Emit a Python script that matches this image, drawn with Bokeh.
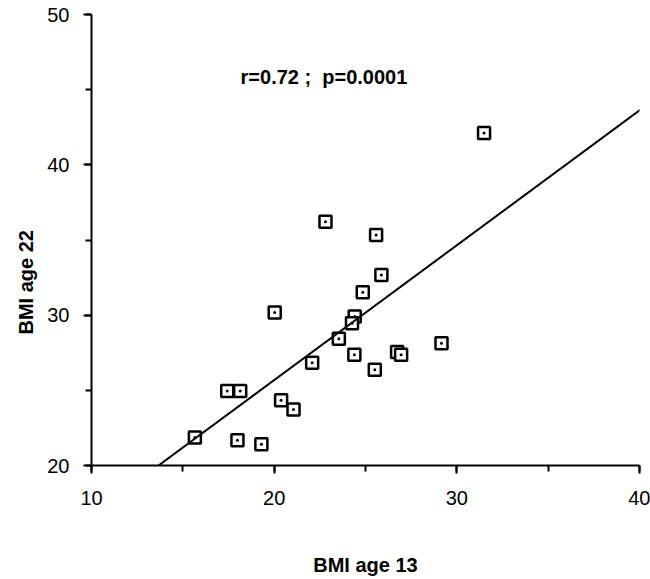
from bokeh.plotting import figure
from bokeh.models import SingleIntervalTicker, Slope, Label, Range1d, Title
from bokeh.embed import file_html
from bokeh.resources import INLINE

# Data
bmi_age13 = [22.81, 25.58, 25.87, 24.85, 20.03, 24.41, 24.26, 23.54, 22.08, 24.39,
             26.73, 26.95, 29.16, 25.51, 17.43, 18.14, 20.38, 21.06, 15.66, 17.99,
             19.30, 31.49]
bmi_age22 = [36.21, 35.33, 32.67, 31.53, 30.17, 29.91, 29.47, 28.43, 26.83, 27.37,
             27.55, 27.37, 28.14, 26.37, 24.96, 24.96, 24.34, 23.72, 21.86, 21.68,
             21.42, 42.12]
fit_slope = 0.897
fit_intercept = 7.74
annotation = "r=0.72 ;\u00a0 p=0.0001"
x_label = "BMI age 13"
y_label = "BMI age 22"

FONT = "Liberation Sans"

p = figure(width=650, height=578, output_backend="svg", toolbar_location=None,
           x_range=Range1d(10, 40), y_range=Range1d(20, 50),
           min_border_left=91, min_border_right=11, min_border_top=14,
           min_border_bottom=112)
p.outline_line_color = None
p.xgrid.visible = False
p.ygrid.visible = False
p.background_fill_color = "white"
p.border_fill_color = "white"

for ax in (p.xaxis[0], p.yaxis[0]):
    ax.ticker = SingleIntervalTicker(interval=10, num_minor_ticks=2)
    ax.axis_line_width = 2
    ax.axis_line_color = "black"
    ax.major_tick_line_width = 2
    ax.minor_tick_line_width = 2
    ax.major_tick_line_color = "black"
    ax.minor_tick_line_color = "black"
    ax.major_tick_in = 0
    ax.minor_tick_in = 0
    ax.major_tick_out = 8
    ax.minor_tick_out = 6
    ax.major_label_text_font = FONT
    ax.major_label_text_font_size = "20px"
    ax.major_label_text_color = "black"

p.xaxis.major_label_standoff = 17
p.yaxis.major_label_standoff = 14
p.xaxis.axis_label = x_label
p.xaxis.axis_label_text_font = FONT
p.xaxis.axis_label_text_font_style = "bold"
p.xaxis.axis_label_text_font_size = "20px"
p.xaxis.axis_label_text_color = "black"
p.xaxis.axis_label_standoff = 46

# regression line
p.add_layout(Slope(gradient=fit_slope, y_intercept=fit_intercept,
                   line_color="black", line_width=2))

# points
p.scatter(bmi_age13, bmi_age22, marker="square_dot", size=12,
          fill_color="white", line_color="black", line_width=2.5)

p.add_layout(Label(x=18.16, y=45.81, text=annotation, text_font=FONT,
                   text_font_style="bold", text_font_size="20px",
                   text_baseline="middle", text_align="left", text_color="black"))

p.add_layout(Title(text=y_label, align="left", offset=131, standoff=15,
                   text_font=FONT, text_font_style="bold", text_font_size="20px",
                   text_color="black"), "left")

open("out.html", "w").write(file_html(p, INLINE))
